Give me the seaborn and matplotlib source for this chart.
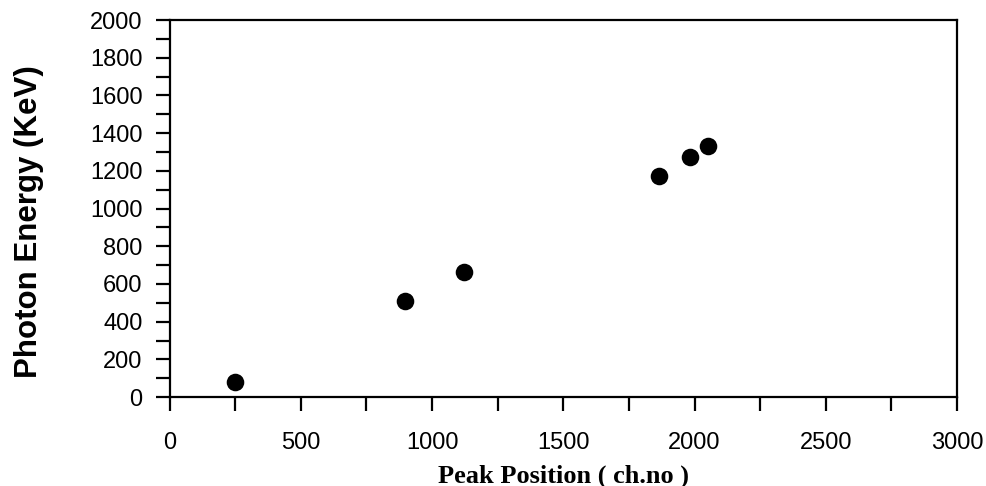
import matplotlib
matplotlib.use("Agg")
import matplotlib.pyplot as plt
import seaborn as sns
import pandas as pd
from matplotlib.ticker import MultipleLocator

peak_position = [250, 897, 1121, 1865, 1983, 2050]
photon_energy = [81, 511, 662, 1173, 1275, 1332]

df = pd.DataFrame({"x": peak_position, "y": photon_energy})

sns.set_style("ticks")
plt.rcParams['font.family'] = ['Liberation Sans', 'DejaVu Sans']
plt.rcParams['text.color'] = 'black'
plt.rcParams['axes.labelcolor'] = 'black'
plt.rcParams['xtick.color'] = 'black'
plt.rcParams['ytick.color'] = 'black'

fig = plt.figure(figsize=(9.86, 4.86), dpi=100)
ax = fig.add_axes([0.172, 0.183, 0.7986, 0.7758])

sns.scatterplot(data=df, x="x", y="y", ax=ax, color="black", s=160,
                edgecolor="black", linewidth=0, zorder=3)

ax.set_xlim(0, 3000)
ax.set_ylim(0, 2000)
ax.xaxis.set_major_locator(MultipleLocator(500))
ax.xaxis.set_minor_locator(MultipleLocator(250))
ax.yaxis.set_major_locator(MultipleLocator(200))
ax.yaxis.set_minor_locator(MultipleLocator(100))

for s in ax.spines.values():
    s.set_linewidth(1.6)
    s.set_color("black")

ax.tick_params(axis="both", which="both", direction="out", width=1.6,
               length=10, color="black", top=False, right=False)
ax.tick_params(axis="x", which="major", labelsize=17, pad=15, labelcolor="black")
ax.tick_params(axis="y", which="major", labelsize=17, pad=9.5, labelcolor="black")

ax.set_xlabel("Peak Position ( ch.no )", fontsize=19, fontweight="bold",
              family="Liberation Serif", color="black")
ax.xaxis.set_label_coords(0.5, -0.178)
ax.set_ylabel("Photon Energy (KeV)", fontsize=22.5, fontweight="bold",
              color="black")
ax.yaxis.set_label_coords(-0.16, 0.466)

fig.savefig("out.png", dpi=100)
